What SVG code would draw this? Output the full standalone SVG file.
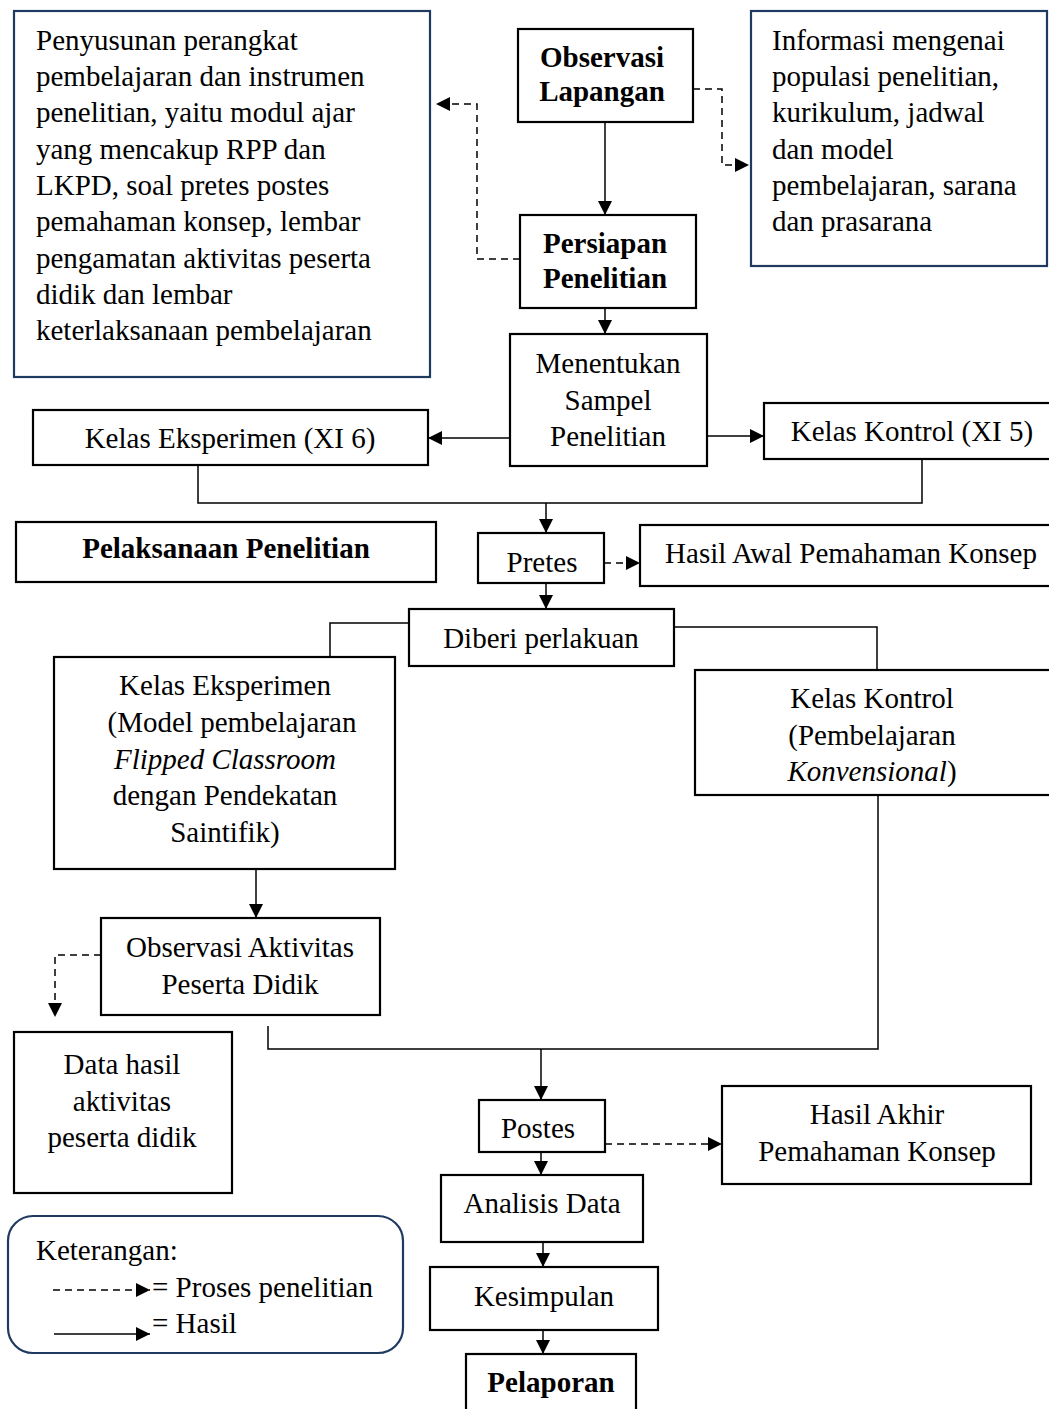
<svg xmlns="http://www.w3.org/2000/svg" width="1049" height="1409" viewBox="0 0 1049 1409">
<style>
text{font-family:"Liberation Serif","Times New Roman",serif;font-size:29px;fill:#000}
.b{font-weight:bold}
.c{text-anchor:middle}
.box{fill:#fff;stroke:#000;stroke-width:2.2}
.nbox{fill:#fff;stroke:#1f3a60;stroke-width:2.2}
.ln{fill:none;stroke:#000;stroke-width:1.5}
.ds{fill:none;stroke:#000;stroke-width:1.5;stroke-dasharray:7,5}
</style>
<defs>
<marker id="ah" viewBox="0 0 10 10" refX="10" refY="5" markerWidth="14" markerHeight="14" markerUnits="userSpaceOnUse" orient="auto"><path d="M0,0L10,5L0,10z" fill="#000"/></marker>
</defs>
<rect width="1049" height="1409" fill="#fff"/>
<g id="connectors">
<path class="ds" d="M693,89H722V165H749" marker-end="url(#ah)"/>
<path class="ln" d="M605,122V215" marker-end="url(#ah)"/>
<path class="ds" d="M520,259H477V104H436" marker-end="url(#ah)"/>
<path class="ln" d="M605,308V334" marker-end="url(#ah)"/>
<path class="ln" d="M510,438H428" marker-end="url(#ah)"/>
<path class="ln" d="M707,436H764" marker-end="url(#ah)"/>
<path class="ln" d="M198,465V503H922V459"/>
<path class="ln" d="M546,503V533" marker-end="url(#ah)"/>
<path class="ds" d="M604,563H640" marker-end="url(#ah)"/>
<path class="ln" d="M546,583V609" marker-end="url(#ah)"/>
<path class="ln" d="M409,623H330V657"/>
<path class="ln" d="M674,627H877V670"/>
<path class="ln" d="M256,869V918" marker-end="url(#ah)"/>
<path class="ds" d="M101,955H55V1017" marker-end="url(#ah)"/>
<path class="ln" d="M268,1026V1049H878V795"/>
<path class="ln" d="M541,1049V1100" marker-end="url(#ah)"/>
<path class="ds" d="M605,1144H722" marker-end="url(#ah)"/>
<path class="ln" d="M541,1152V1175" marker-end="url(#ah)"/>
<path class="ln" d="M543,1242V1267" marker-end="url(#ah)"/>
<path class="ln" d="M543,1330V1354" marker-end="url(#ah)"/>
</g>
<g id="penyusunan">
<rect class="nbox" x="14" y="11" width="416" height="366"/>
<text x="36" y="50">Penyusunan perangkat</text>
<text x="36" y="86">pembelajaran dan instrumen</text>
<text x="36" y="122">penelitian, yaitu modul ajar</text>
<text x="36" y="159">yang mencakup RPP dan</text>
<text x="36" y="195">LKPD, soal pretes postes</text>
<text x="36" y="231">pemahaman konsep, lembar</text>
<text x="36" y="268">pengamatan aktivitas peserta</text>
<text x="36" y="304">didik dan lembar</text>
<text x="36" y="340">keterlaksanaan pembelajaran</text>
</g>
<g id="observasi-lapangan">
<rect class="box" x="518" y="29" width="175" height="93"/>
<text class="b c" x="602" y="67">Observasi</text>
<text class="b c" x="602" y="101">Lapangan</text>
</g>
<g id="informasi">
<rect class="nbox" x="751" y="11" width="296" height="255"/>
<text x="772" y="50">Informasi mengenai</text>
<text x="772" y="86">populasi penelitian,</text>
<text x="772" y="122">kurikulum, jadwal</text>
<text x="772" y="159">dan model</text>
<text x="772" y="195">pembelajaran, sarana</text>
<text x="772" y="231">dan prasarana</text>
</g>
<g id="persiapan">
<rect class="box" x="520" y="215" width="176" height="93"/>
<text class="b c" x="605" y="253">Persiapan</text>
<text class="b c" x="605" y="288">Penelitian</text>
</g>
<g id="menentukan">
<rect class="box" x="510" y="334" width="197" height="132"/>
<text class="c" x="608" y="373">Menentukan</text>
<text class="c" x="608" y="410">Sampel</text>
<text class="c" x="608" y="446">Penelitian</text>
</g>
<g id="kelas-eksperimen-xi6">
<rect class="box" x="33" y="410" width="395" height="55"/>
<text class="c" x="230" y="448">Kelas Eksperimen (XI 6)</text>
</g>
<g id="kelas-kontrol-xi5">
<rect class="box" x="764" y="403" width="290" height="56"/>
<text class="c" x="912" y="441">Kelas Kontrol (XI 5)</text>
</g>
<g id="pelaksanaan">
<rect class="box" x="16" y="522" width="420" height="60"/>
<text class="b c" x="226" y="558">Pelaksanaan Penelitian</text>
</g>
<g id="pretes">
<rect class="box" x="478" y="533" width="126" height="50"/>
<text class="c" x="542" y="572">Pretes</text>
</g>
<g id="hasil-awal">
<rect class="box" x="640" y="525" width="414" height="61"/>
<text class="c" x="851" y="563">Hasil Awal Pemahaman Konsep</text>
</g>
<g id="diberi-perlakuan">
<rect class="box" x="409" y="609" width="265" height="57"/>
<text class="c" x="541" y="648">Diberi perlakuan</text>
</g>
<g id="kelas-eksperimen-model">
<rect class="box" x="54" y="657" width="341" height="212"/>
<text class="c" x="225" y="695">Kelas Eksperimen</text>
<text class="c" x="232" y="732">(Model pembelajaran</text>
<text class="c" x="225" y="769" font-style="italic">Flipped Classroom</text>
<text class="c" x="225" y="805">dengan Pendekatan</text>
<text class="c" x="225" y="842">Saintifik)</text>
</g>
<g id="kelas-kontrol-konvensional">
<rect class="box" x="695" y="670" width="359" height="125"/>
<text class="c" x="872" y="708">Kelas Kontrol</text>
<text class="c" x="872" y="745">(Pembelajaran</text>
<text class="c" x="872" y="781"><tspan font-style="italic">Konvensional</tspan>)</text>
</g>
<g id="observasi-aktivitas">
<rect class="box" x="101" y="918" width="279" height="97"/>
<text class="c" x="240" y="957">Observasi Aktivitas</text>
<text class="c" x="240" y="994">Peserta Didik</text>
</g>
<g id="data-hasil">
<rect class="box" x="14" y="1032" width="218" height="161"/>
<text class="c" x="122" y="1074">Data hasil</text>
<text class="c" x="122" y="1111">aktivitas</text>
<text class="c" x="122" y="1147">peserta didik</text>
</g>
<g id="postes">
<rect class="box" x="479" y="1100" width="126" height="52"/>
<text class="c" x="538" y="1138">Postes</text>
</g>
<g id="hasil-akhir">
<rect class="box" x="722" y="1086" width="309" height="98"/>
<text class="c" x="877" y="1124">Hasil Akhir</text>
<text class="c" x="877" y="1161">Pemahaman Konsep</text>
</g>
<g id="analisis">
<rect class="box" x="441" y="1175" width="202" height="67"/>
<text class="c" x="542" y="1213">Analisis Data</text>
</g>
<g id="kesimpulan">
<rect class="box" x="430" y="1267" width="228" height="63"/>
<text class="c" x="544" y="1306">Kesimpulan</text>
</g>
<g id="pelaporan">
<rect class="box" x="466" y="1354" width="170" height="60"/>
<text class="b c" x="551" y="1392">Pelaporan</text>
</g>
<g id="legend">
<rect class="nbox" x="8" y="1216" width="395" height="137" rx="25"/>
<text x="36" y="1260">Keterangan:</text>
<path class="ds" d="M53,1290H150" stroke-dasharray="5,4" marker-end="url(#ah)"/>
<text x="152" y="1297">= Proses penelitian</text>
<path class="ln" d="M54,1334H150" marker-end="url(#ah)"/>
<text x="152" y="1333">= Hasil</text>
</g>
</svg>
